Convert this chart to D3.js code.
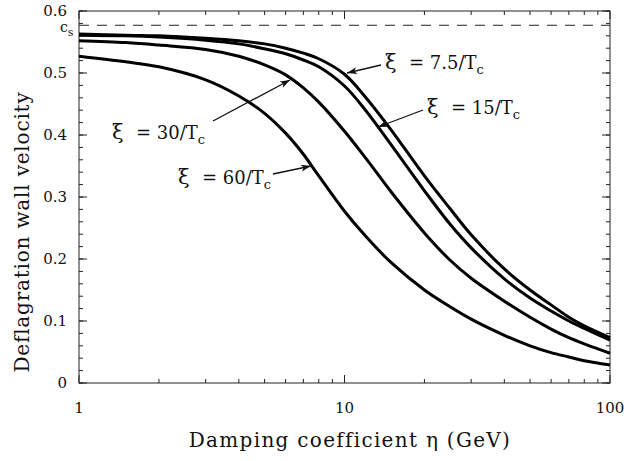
<!DOCTYPE html>
<html>
<head>
<meta charset="utf-8">
<script src="https://cdn.jsdelivr.net/npm/d3@7"></script>
<style>
  body { margin: 0; background: #fff; }
  text { font-family: "DejaVu Serif", "Liberation Serif", serif; fill: #111; }
</style>
</head>
<body>
<div id="canvas"></div>
<script>
// damping coefficient eta (GeV), sampled along the curves
const etaValues = [1, 1.5, 2, 3, 4, 5, 6, 7, 8, 10, 12, 15, 20, 25, 30, 40, 50, 60, 70, 80, 100];

// wall velocity for each xi
const v75 = [0.563, 0.561, 0.560, 0.556, 0.552, 0.547, 0.540, 0.532, 0.523, 0.498, 0.461, 0.408, 0.334, 0.281, 0.239, 0.184, 0.150, 0.126, 0.106, 0.092, 0.073];
const v15 = [0.561, 0.560, 0.558, 0.553, 0.547, 0.539, 0.531, 0.521, 0.510, 0.479, 0.440, 0.384, 0.310, 0.256, 0.218, 0.168, 0.137, 0.116, 0.100, 0.088, 0.069];
const v30 = [0.552, 0.549, 0.545, 0.538, 0.527, 0.513, 0.497, 0.476, 0.453, 0.406, 0.363, 0.308, 0.242, 0.198, 0.169, 0.132, 0.106, 0.087, 0.073, 0.063, 0.048];
const v60 = [0.527, 0.518, 0.510, 0.489, 0.463, 0.435, 0.403, 0.369, 0.334, 0.277, 0.237, 0.194, 0.150, 0.123, 0.103, 0.077, 0.060, 0.049, 0.042, 0.036, 0.029];

const soundSpeed = 0.577; // c_s

const yTicks = [0, 0.1, 0.2, 0.3, 0.4, 0.5, 0.6];
const xTicks = [1, 10, 100];

const labels = [
    { num: "7.5", tx: 385, ty: 69, from: [381, 65], to: [347, 73] },
    { num: "15", tx: 427, ty: 114, from: [423, 110], to: [378, 127] },
    { num: "30", tx: 112, ty: 139, from: [213, 121], to: [290, 80] },
    { num: "60", tx: 178, ty: 184, from: [273, 174], to: [311, 166] }
];

const width = 626, height = 461;
const margin = { top: 11, right: 16, bottom: 78, left: 79 };
const w = width - margin.left - margin.right;
const h = height - margin.top - margin.bottom;

const svg = d3.select("#canvas").append("svg")
    .attr("width", width)
    .attr("height", height);

const defs = svg.append("defs");
defs.append("marker")
    .attr("id", "arrow")
    .attr("viewBox", "0 0 10 10")
    .attr("refX", 10).attr("refY", 5)
    .attr("markerWidth", 14).attr("markerHeight", 10)
    .attr("markerUnits", "userSpaceOnUse")
    .attr("orient", "auto")
    .append("path")
    .attr("d", "M0,1.5 L10,5 L0,8.5 L2.5,5 Z")
    .attr("fill", "#111");

const g = svg.append("g").attr("transform", `translate(${margin.left},${margin.top})`);

const x = d3.scaleLog().domain([1, 100]).range([0, w]);
const y = d3.scaleLinear().domain([0, 0.6]).range([h, 0]);

// frame
g.append("rect")
    .attr("width", w).attr("height", h)
    .attr("fill", "none").attr("stroke", "#222").attr("stroke-width", 1);

// ticks (inward, all four sides)
const yMinor = d3.range(0, 0.601, 0.02);
const xMinor = [2, 3, 4, 5, 6, 7, 8, 9, 20, 30, 40, 50, 60, 70, 80, 90];

function tickLines(sel, vals, len, horiz) {
    vals.forEach(v => {
        if (horiz) {
            sel.append("line").attr("x1", 0).attr("x2", len).attr("y1", y(v)).attr("y2", y(v));
            sel.append("line").attr("x1", w).attr("x2", w - len).attr("y1", y(v)).attr("y2", y(v));
        } else {
            sel.append("line").attr("y1", h).attr("y2", h - len).attr("x1", x(v)).attr("x2", x(v));
            sel.append("line").attr("y1", 0).attr("y2", len).attr("x1", x(v)).attr("x2", x(v));
        }
    });
}
const ticks = g.append("g").attr("stroke", "#222").attr("stroke-width", 1);
tickLines(ticks, yMinor, 4, true);
tickLines(ticks, yTicks, 8, true);
tickLines(ticks, xMinor, 4, false);
tickLines(ticks, xTicks, 8, false);

// tick labels
g.selectAll(".ylab").data(yTicks).join("text")
    .attr("x", -12).attr("y", d => y(d) + 5)
    .attr("text-anchor", "end")
    .attr("font-size", 15)
    .text(d => d === 0 ? "0" : d3.format(".1f")(d));

g.selectAll(".xlab").data(xTicks).join("text")
    .attr("x", d => x(d)).attr("y", h + 30)
    .attr("text-anchor", "middle")
    .attr("font-size", 15)
    .text(d => d);

// axis titles
svg.append("text")
    .attr("transform", "translate(29,232) rotate(-90)")
    .attr("text-anchor", "middle")
    .attr("font-size", 20)
    .attr("letter-spacing", 0.8)
    .text("Deflagration wall velocity");

svg.append("text")
    .attr("x", 350).attr("y", 447)
    .attr("text-anchor", "middle")
    .attr("font-size", 20)
    .attr("letter-spacing", 1.3)
    .text("Damping coefficient \u03B7 (GeV)");

// sound speed dashed line
g.append("line")
    .attr("x1", 0).attr("x2", w)
    .attr("y1", y(soundSpeed)).attr("y2", y(soundSpeed))
    .attr("stroke", "#222").attr("stroke-width", 1)
    .attr("stroke-dasharray", "10,8");

const cs = svg.append("text")
    .attr("x", 60).attr("y", 32)
    .attr("font-size", 14);
cs.append("tspan").text("c");
cs.append("tspan").attr("dy", 4).attr("font-size", 11).text("s");

// curves
const line = d3.line()
    .x((d, i) => x(etaValues[i]))
    .y(d => y(d))
    .curve(d3.curveCatmullRom.alpha(0.5));

[v75, v15, v30, v60].forEach(series => {
    g.append("path")
        .attr("d", line(series))
        .attr("fill", "none")
        .attr("stroke", "#000")
        .attr("stroke-width", 3);
});

// annotations
labels.forEach(l => {
    const t = svg.append("text").attr("x", l.tx).attr("y", l.ty).attr("font-size", 18);
    t.append("tspan").attr("font-size", 21).text("\u03BE");
    t.append("tspan").attr("x", l.tx + 24).text(`= ${l.num}/T`);
    t.append("tspan").attr("dy", 5).attr("font-size", 13).text("c");

    svg.append("line")
        .attr("x1", l.from[0]).attr("y1", l.from[1])
        .attr("x2", l.to[0]).attr("y2", l.to[1])
        .attr("stroke", "#111").attr("stroke-width", 1.3)
        .attr("marker-end", "url(#arrow)");
});
</script>
</body>
</html>
